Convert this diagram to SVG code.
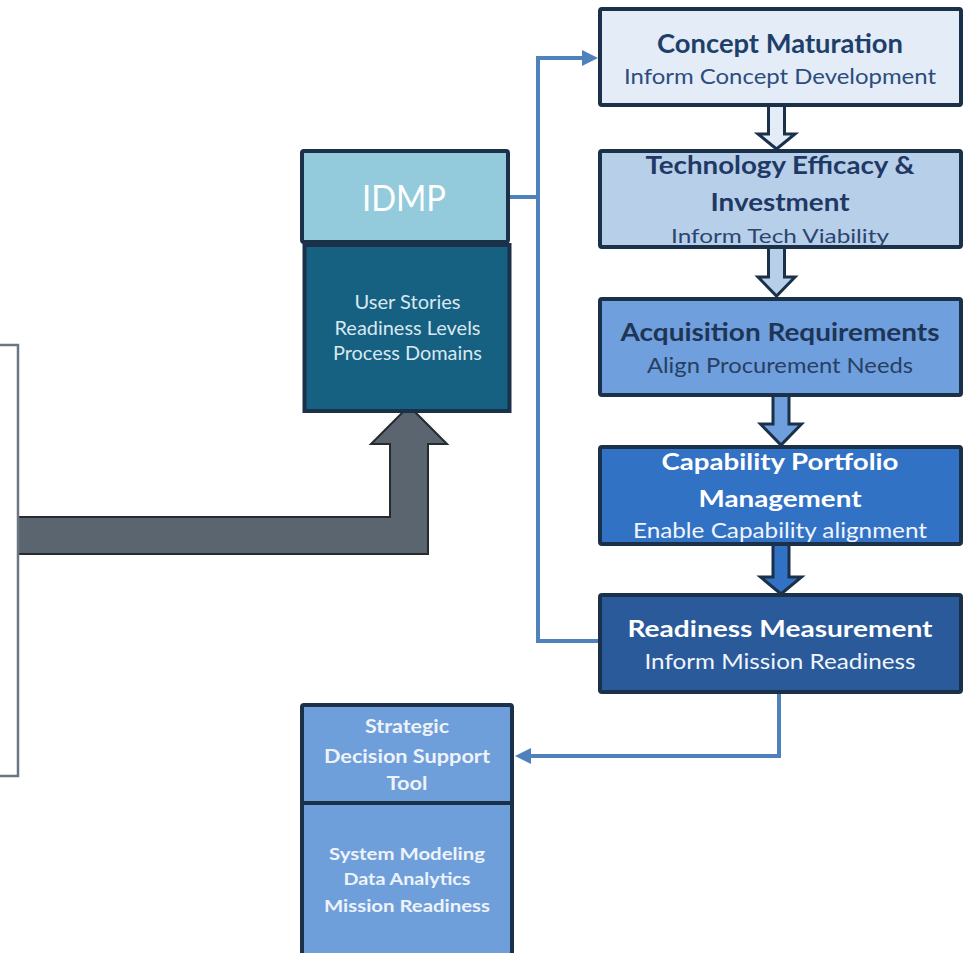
<svg xmlns="http://www.w3.org/2000/svg" width="979" height="953" viewBox="0 0 979 953">
<defs>
<style>
.box{stroke:#1b3049;stroke-width:4}
.t{font-family:Lato,"Open Sans","Liberation Sans",sans-serif;text-anchor:middle}
.b{font-weight:bold}
.conn{fill:none;stroke:#4f81bd;stroke-width:4}
.blk{stroke:#1b3049;stroke-width:3;stroke-linejoin:miter}
</style>
<marker id="ah" markerUnits="userSpaceOnUse" markerWidth="16" markerHeight="16" viewBox="0 0 16 16" refX="4" refY="8" orient="auto"><path d="M0,0 L16,8 L0,16 Z" fill="#4f81bd"/></marker>
</defs>
<rect x="0" y="0" width="979" height="953" fill="#ffffff"/>

<g id="connectors">
  <path id="gray-arrow" d="M16,517 H390 V444 H371 L409,406 L447,444 H428 V554 H16 Z" fill="#5b6570" stroke="#262b30" stroke-width="2"/>
  <path class="conn" d="M598,641 H538 V58 H586" marker-end="url(#ah)"/>
  <path class="conn" d="M510,197 H538"/>
  <path class="conn" d="M779,694 V756 H527" marker-end="url(#ah)"/>
  <path class="blk" fill="#e4ecf8" d="M768.5,105 V134 H758 L776.5,149 L795,134 H784.5 V105 Z"/>
  <path class="blk" fill="#b8cfea" d="M768.5,247 V277 H758 L776.5,296 L795,277 H784.5 V247 Z"/>
  <path class="blk" fill="#6f9fdc" d="M773,395 V424 H760.5 L781,445 L801.5,424 H789 V395 Z"/>
  <path class="blk" fill="#3272c4" d="M773,544 V577 H760.5 L781,594 L801.5,577 H789 V544 Z"/>
</g>

<g id="left-box">
  <rect x="-5" y="345" width="23" height="431" fill="#ffffff" stroke="#6b7683" stroke-width="2.5"/>
</g>

<g id="concept-maturation">
  <rect class="box" x="600" y="9" width="361" height="96" rx="2" fill="#e4ecf8"/>
  <text class="t b" x="780" y="53" font-size="26" fill="#1f3f6b" textLength="246" lengthAdjust="spacingAndGlyphs">Concept Maturation</text>
  <text class="t" x="780" y="84" font-size="22" fill="#2c4d7c" textLength="312" lengthAdjust="spacingAndGlyphs">Inform Concept Development</text>
</g>

<g id="technology-efficacy">
  <rect class="box" x="600" y="151" width="361" height="96" rx="2" fill="#b8cfea"/>
  <text class="t b" x="780" y="174" font-size="25" fill="#1f3864" textLength="269" lengthAdjust="spacingAndGlyphs">Technology Efficacy &amp;</text>
  <text class="t b" x="780" y="211" font-size="25" fill="#1f3864" textLength="139" lengthAdjust="spacingAndGlyphs">Investment</text>
  <text class="t" x="780" y="243" font-size="20" fill="#2a4670" textLength="218" lengthAdjust="spacingAndGlyphs">Inform Tech Viability</text>
</g>

<g id="acquisition-requirements">
  <rect class="box" x="600" y="299" width="361" height="96" rx="2" fill="#6f9fdc"/>
  <text class="t b" x="780" y="341" font-size="24" fill="#1e3557" textLength="319" lengthAdjust="spacingAndGlyphs">Acquisition Requirements</text>
  <text class="t" x="780" y="373" font-size="22" fill="#263f63" textLength="266" lengthAdjust="spacingAndGlyphs">Align Procurement Needs</text>
</g>

<g id="capability-portfolio">
  <rect class="box" x="600" y="447" width="361" height="97" rx="2" fill="#3272c4"/>
  <text class="t b" x="780" y="470" font-size="23" fill="#ffffff" textLength="237" lengthAdjust="spacingAndGlyphs">Capability Portfolio</text>
  <text class="t b" x="780" y="507" font-size="23" fill="#ffffff" textLength="163" lengthAdjust="spacingAndGlyphs">Management</text>
  <text class="t" x="780" y="538" font-size="21" fill="#f0f5fc" textLength="294" lengthAdjust="spacingAndGlyphs">Enable Capability alignment</text>
</g>

<g id="readiness-measurement">
  <rect class="box" x="600" y="595" width="361" height="97" rx="2" fill="#2a5a99"/>
  <text class="t b" x="780" y="637" font-size="23" fill="#ffffff" textLength="305" lengthAdjust="spacingAndGlyphs">Readiness Measurement</text>
  <text class="t" x="780" y="669" font-size="22" fill="#f0f5fc" textLength="271" lengthAdjust="spacingAndGlyphs">Inform Mission Readiness</text>
</g>

<g id="idmp">
  <rect class="box" x="304.5" y="245" width="205" height="166" fill="#166082"/>
  <rect class="box" x="302" y="151" width="206" height="91" rx="2" fill="#93cbdc"/>
  <text class="t" x="404" y="211" font-size="36" fill="#ffffff" textLength="84" lengthAdjust="spacingAndGlyphs">IDMP</text>
  <text class="t" x="407.5" y="309" font-size="19" fill="#d9e8f0" textLength="106" lengthAdjust="spacingAndGlyphs">User Stories</text>
  <text class="t" x="407.5" y="335" font-size="19" fill="#d9e8f0" textLength="146" lengthAdjust="spacingAndGlyphs">Readiness Levels</text>
  <text class="t" x="407.5" y="360" font-size="19" fill="#d9e8f0" textLength="149" lengthAdjust="spacingAndGlyphs">Process Domains</text>
</g>

<g id="strategic-decision-support">
  <rect class="box" x="302" y="803" width="210" height="170" fill="#6f9fda"/>
  <rect class="box" x="302" y="705" width="210" height="98" rx="2" fill="#6f9fda"/>
  <text class="t b" x="407" y="733" font-size="18" fill="#eef3fa" textLength="84" lengthAdjust="spacingAndGlyphs">Strategic</text>
  <text class="t b" x="407" y="763" font-size="18" fill="#eef3fa" textLength="166" lengthAdjust="spacingAndGlyphs">Decision Support</text>
  <text class="t b" x="407" y="790" font-size="18" fill="#eef3fa" textLength="41" lengthAdjust="spacingAndGlyphs">Tool</text>
  <text class="t b" x="407" y="860" font-size="17" fill="#eef3fa" textLength="156" lengthAdjust="spacingAndGlyphs">System Modeling</text>
  <text class="t b" x="407" y="885" font-size="17" fill="#eef3fa" textLength="127" lengthAdjust="spacingAndGlyphs">Data Analytics</text>
  <text class="t b" x="407" y="912" font-size="17" fill="#eef3fa" textLength="166" lengthAdjust="spacingAndGlyphs">Mission Readiness</text>
</g>
</svg>
